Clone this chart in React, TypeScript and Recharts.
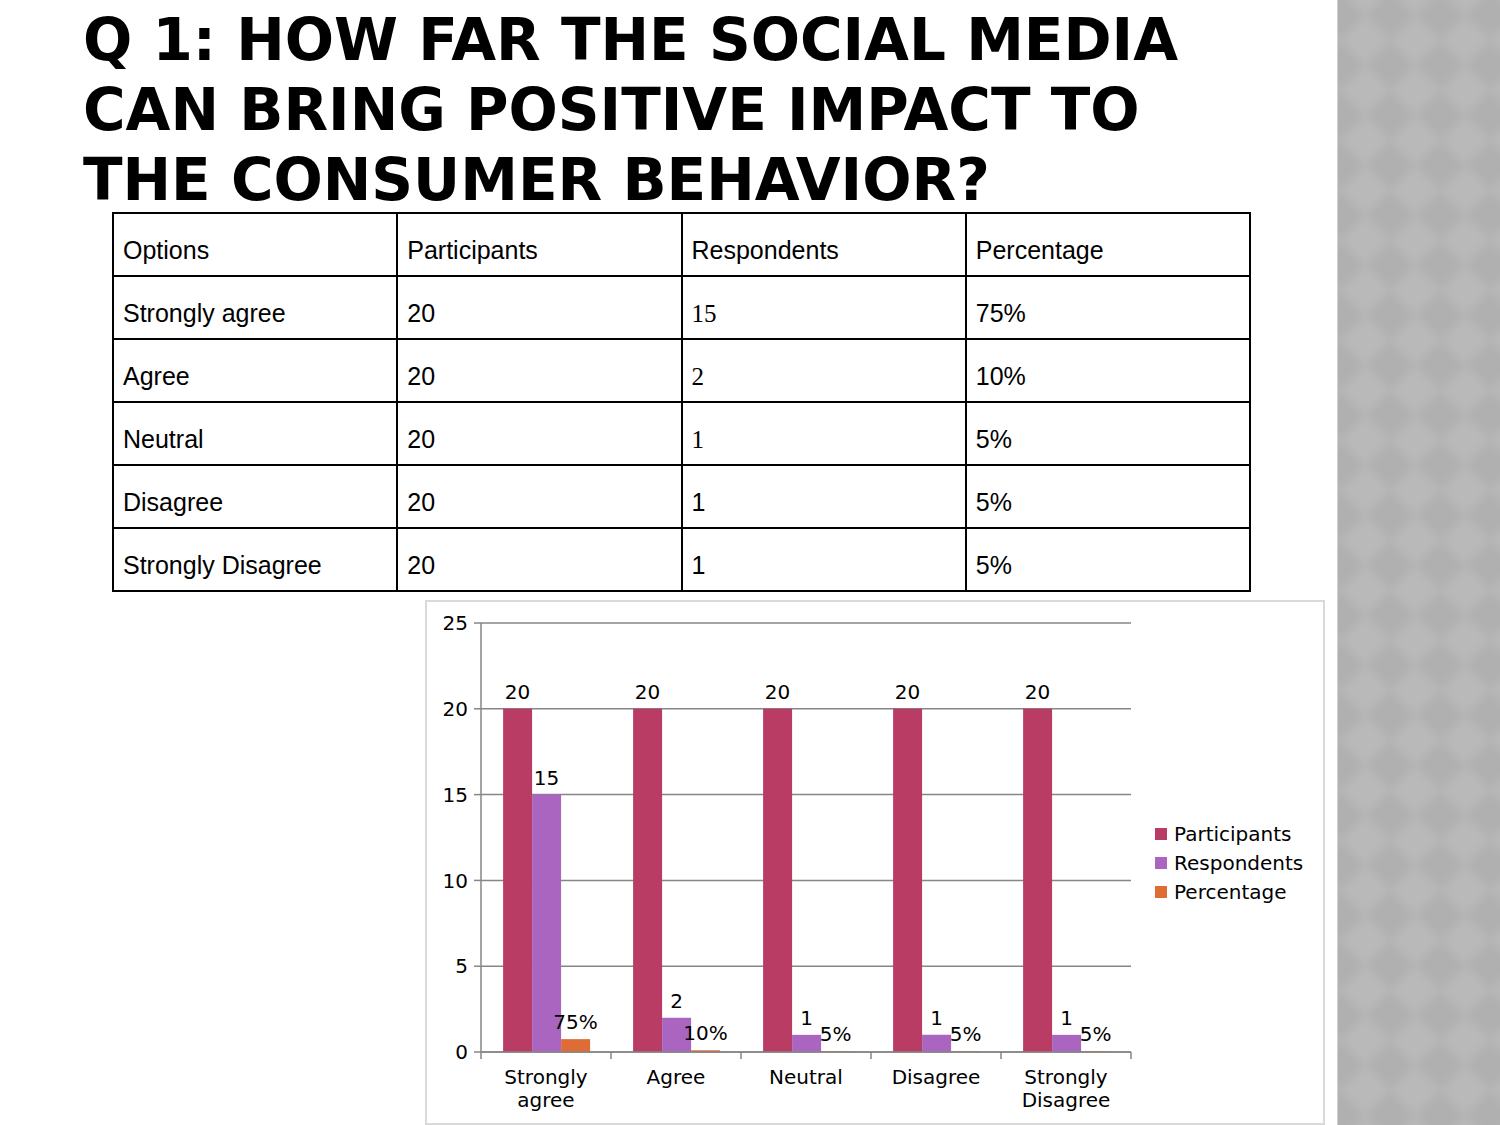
import { BarChart, Bar, XAxis, YAxis, CartesianGrid, Legend, LabelList } from "recharts"

const options = ["Strongly agree", "Agree", "Neutral", "Disagree", "Strongly Disagree"]
const participants = [20, 20, 20, 20, 20]
const respondents = [15, 2, 1, 1, 1]
const percentage = [0.75, 0.1, 0.05, 0.05, 0.05]
const yTicks = [0, 5, 10, 15, 20, 25]
const seriesKeys = ["Participants", "Respondents", "Percentage"]
const tableHeaders = ["Options", "Participants", "Respondents", "Percentage"]
// the first three respondent cells are typed in a serif font in the slide
const serifRespondents = [true, true, true, false, false]
const titleLines = [
	"Q 1: HOW FAR THE SOCIAL MEDIA",
	"CAN BRING POSITIVE IMPACT TO",
	"THE CONSUMER BEHAVIOR?",
]

const data = options.map((name, i) => ({
	name,
	Participants: participants[i],
	Respondents: respondents[i],
	Percentage: percentage[i],
}))

const colors = { Participants: "#b83c64", Respondents: "#a965bf", Percentage: "#df6b35" }
const axisGrey = "#868686"
const chartFont = "DejaVu Sans"

const pct = (v: number) => `${Math.round(v * 100)}%`

function CategoryTick(props: any) {
	const { x, y, payload, width, visibleTicksCount, index } = props
	const band = width / visibleTicksCount
	// the slide wraps every two-word category onto two lines
	const lines = String(payload.value).split(" ")
	return (
		<g>
			{index === 0 && (
				<line x1={x - band / 2} y1={y} x2={x - band / 2} y2={y + 7} stroke={axisGrey} strokeWidth={1.5} />
			)}
			<line x1={x + band / 2} y1={y} x2={x + band / 2} y2={y + 7} stroke={axisGrey} strokeWidth={1.5} />
			<text x={x} y={y + 32} textAnchor="middle" fontSize={20} fontFamily={chartFont} fill="#000">
				{lines.map((l, i) => (
					<tspan key={i} x={x} dy={i === 0 ? 0 : 23}>
						{l}
					</tspan>
				))}
			</text>
		</g>
	)
}

function LegendBox(props: any) {
	const items = [...(props.payload || [])].sort(
		(a: any, b: any) => seriesKeys.indexOf(a.value) - seriesKeys.indexOf(b.value)
	)
	return (
		<div style={{ paddingLeft: 24, fontFamily: chartFont, fontSize: 20, color: "#000" }}>
			{items.map((p: any) => (
				<div key={p.value} style={{ display: "flex", alignItems: "center", height: 29 }}>
					<span style={{ width: 12, height: 12, background: p.color, marginRight: 7, display: "inline-block" }} />
					<span>{p.value}</span>
				</div>
			))}
		</div>
	)
}

const cell = {
	border: "2px solid #000",
	height: 63,
	boxSizing: "border-box" as const,
	padding: "0 9px 10px 9px",
	verticalAlign: "bottom" as const,
	fontFamily: "Liberation Sans",
	fontSize: 25,
	width: "25%",
	textAlign: "left" as const,
}

export default function App() {
	return (
		<div style={{ position: "absolute", left: 0, top: 0, width: 1500, height: 1125, background: "#fff", overflow: "hidden" }}>
			<div
				style={{
					position: "absolute",
					left: 1337,
					top: 0,
					width: 163,
					height: 1125,
					overflow: "hidden",
					background: "#b4b4b4",
					borderLeft: "1px solid #d0d0d0",
				}}
			>
				<div
					style={{
						position: "absolute",
						left: -10,
						top: -10,
						width: 190,
						height: 1150,
						backgroundImage: "conic-gradient(from 45deg, #b0b0b0 25%, #b9b9b9 0 50%, #b0b0b0 0 75%, #b9b9b9 0)",
						backgroundSize: "50px 50px",
						backgroundPosition: "12px 0px",
						filter: "blur(4px)",
					}}
				/>
			</div>
			<div
				style={{
					position: "absolute",
					left: 83,
					top: 5,
					fontFamily: "DejaVu Sans",
					fontWeight: "bold",
					fontSize: 58,
					lineHeight: "70px",
					color: "#000",
					whiteSpace: "nowrap",
				}}
			>
				{titleLines.map((l) => (
					<div key={l}>{l}</div>
				))}
			</div>
			<table
				style={{
					position: "absolute",
					left: 112,
					top: 212,
					width: 1139,
					borderCollapse: "collapse",
					tableLayout: "fixed",
				}}
			>
				<tbody>
					<tr>
						{tableHeaders.map((h) => (
							<td key={h} style={cell}>{h}</td>
						))}
					</tr>
					{options.map((o, i) => (
						<tr key={o}>
							<td style={cell}>{o}</td>
							<td style={cell}>{participants[i]}</td>
							<td style={serifRespondents[i] ? { ...cell, fontFamily: "Liberation Serif" } : cell}>{respondents[i]}</td>
							<td style={cell}>{pct(percentage[i])}</td>
						</tr>
					))}
				</tbody>
			</table>
			<div
				style={{
					position: "absolute",
					left: 425,
					top: 600,
					border: "2px solid #d9d9d9",
					background: "#fff",
					width: 896,
					height: 521,
				}}
			>
				<BarChart
					width={896}
					height={521}
					data={data}
					margin={{ top: 21, right: 10, left: 0, bottom: 11 }}
					barCategoryGap="17%"
					barGap={0}
				>
					<CartesianGrid vertical={false} stroke={axisGrey} strokeWidth={1.5} />
					<XAxis
						dataKey="name"
						height={60}
						interval={0}
						tickLine={false}
						tickSize={0}
						tickMargin={0}
						axisLine={{ stroke: axisGrey, strokeWidth: 1.5 }}
						tick={<CategoryTick />}
					/>
					<YAxis
						width={54}
						domain={[0, 25]}
						ticks={yTicks}
						tickSize={7}
						tickMargin={6}
						axisLine={{ stroke: axisGrey, strokeWidth: 1.5 }}
						tickLine={{ stroke: axisGrey, strokeWidth: 1.5 }}
						tick={{ fontSize: 20, fill: "#000", fontFamily: chartFont }}
					/>
					<Legend layout="vertical" align="right" verticalAlign="middle" width={182} content={<LegendBox />} />
					<Bar dataKey="Participants" fill={colors.Participants} isAnimationActive={false}>
						<LabelList dataKey="Participants" position="top" offset={10} fontSize={20} fill="#000" fontFamily={chartFont} />
					</Bar>
					<Bar dataKey="Respondents" fill={colors.Respondents} isAnimationActive={false}>
						<LabelList dataKey="Respondents" position="top" offset={10} fontSize={20} fill="#000" fontFamily={chartFont} />
					</Bar>
					<Bar dataKey="Percentage" fill={colors.Percentage} isAnimationActive={false}>
						<LabelList
							dataKey="Percentage"
							position="top"
							offset={10}
							fontSize={20}
							fill="#000"
							fontFamily={chartFont}
							formatter={(v: any) => pct(Number(v))}
						/>
					</Bar>
				</BarChart>
			</div>
		</div>
	)
}
